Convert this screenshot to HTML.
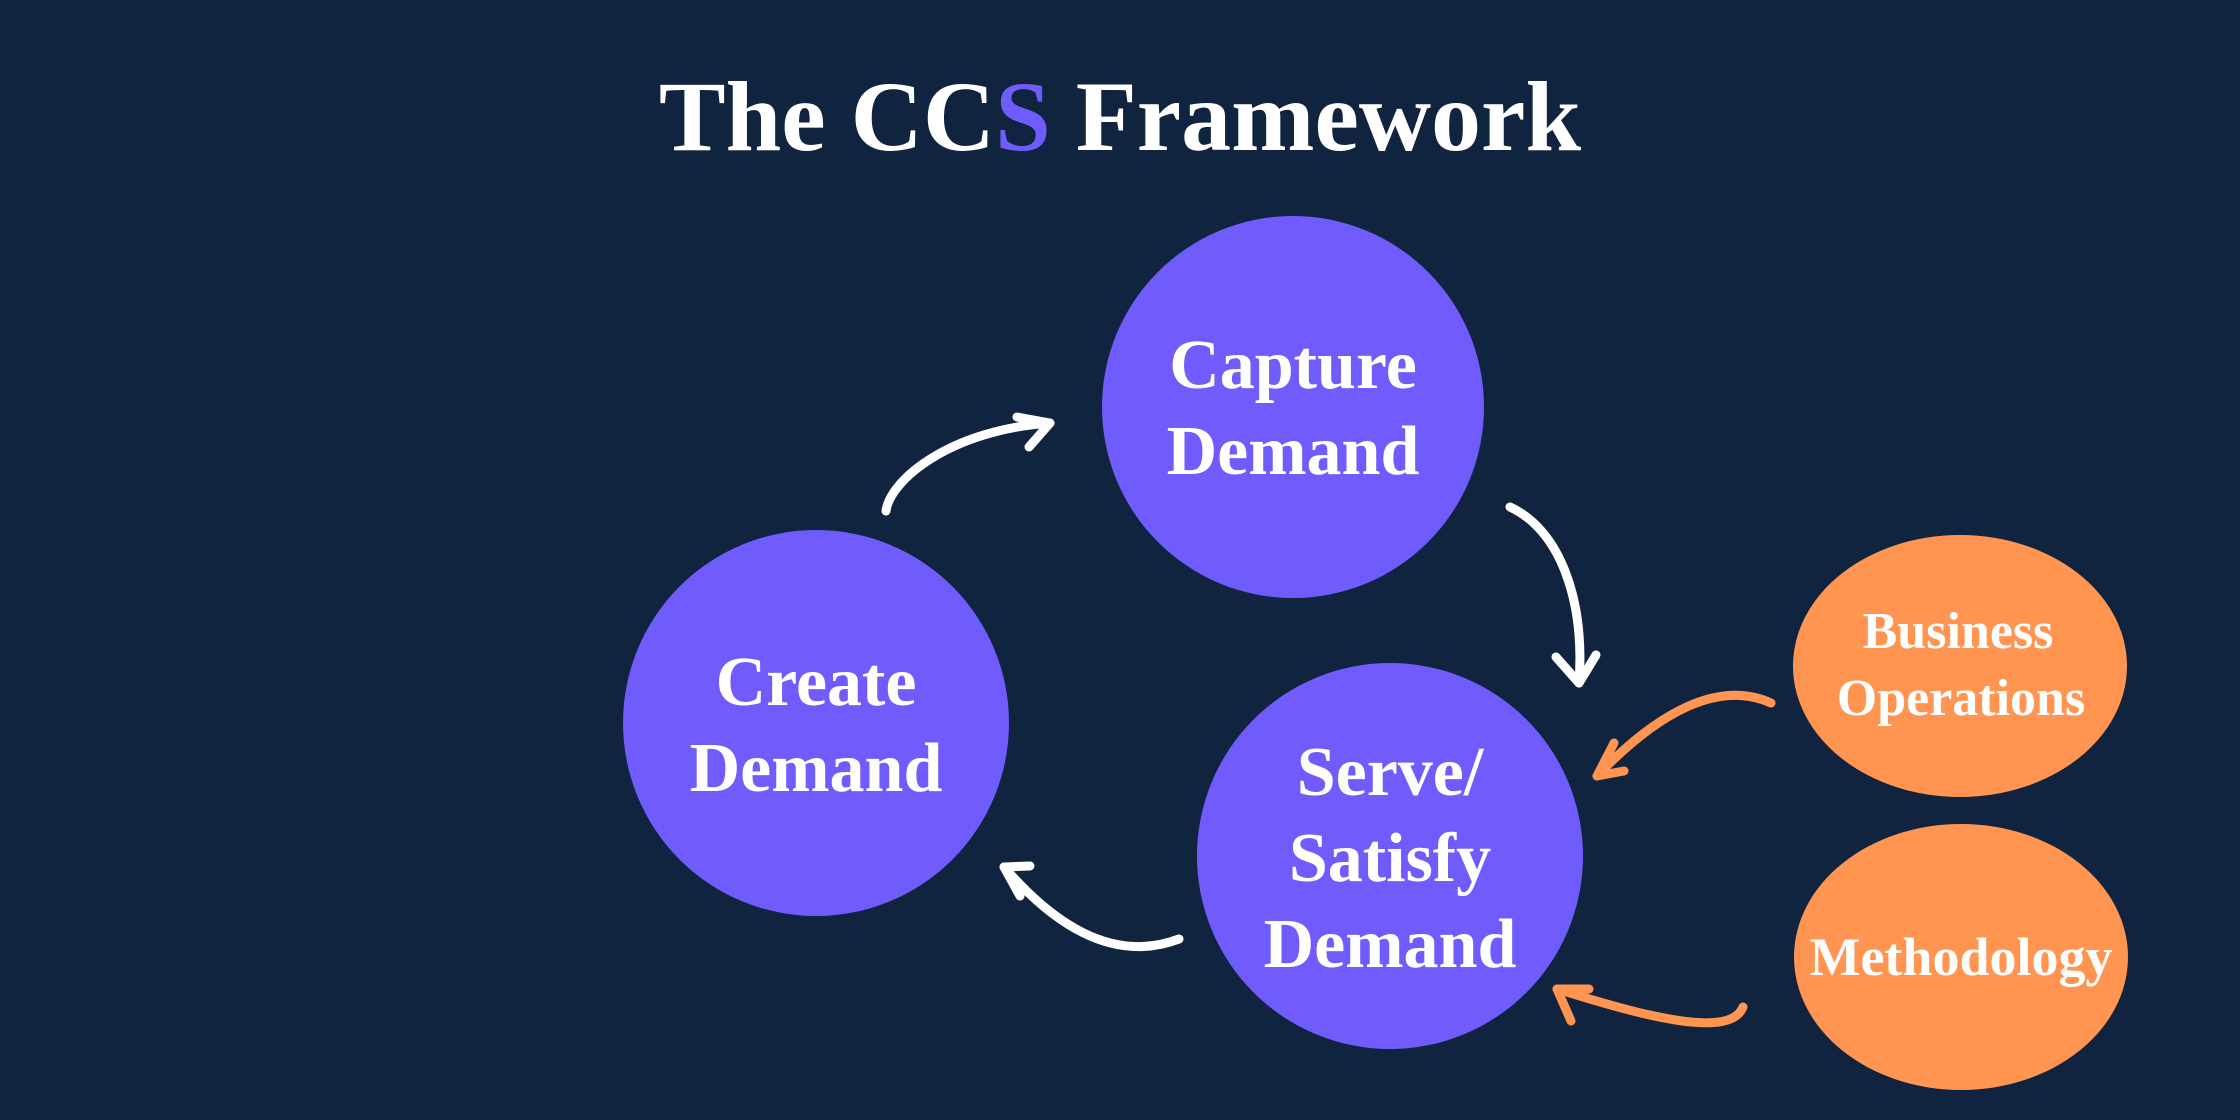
<!DOCTYPE html>
<html><head><meta charset="utf-8"><style>
html,body{margin:0;padding:0;background:#11243f;}
svg{display:block}
text{font-family:"Liberation Serif",serif;font-weight:bold;fill:#fff;text-anchor:middle}
</style></head><body>
<svg width="2240" height="1120" viewBox="0 0 2240 1120">
<rect width="2240" height="1120" fill="#11243f"/>
<text x="1120" y="150" font-size="100">The CC<tspan fill="#705cfd">S</tspan> Framework</text>
<circle cx="1293" cy="407" r="191" fill="#705cfd"/>
<circle cx="816" cy="723" r="193" fill="#705cfd"/>
<circle cx="1390" cy="856" r="193" fill="#705cfd"/>
<ellipse cx="1960" cy="666" rx="167" ry="131" fill="#ff9550"/>
<ellipse cx="1961" cy="957" rx="167" ry="133" fill="#ff9550"/>
<g font-size="70">
<text x="1293" y="388">Capture</text><text x="1293" y="474">Demand</text>
<text x="816" y="705">Create</text><text x="816" y="791">Demand</text>
<text x="1390" y="795">Serve/</text><text x="1390" y="881">Satisfy</text><text x="1390" y="967">Demand</text>
</g>
<g font-size="52">
<text x="1958" y="648">Business</text><text x="1961" y="715">Operations</text>
</g>
<text x="1961" y="975" font-size="54">Methodology</text>
<g fill="none" stroke="#fff" stroke-width="9" stroke-linecap="round" stroke-linejoin="round">
<path d="M886,511 C890,480 950,430 1050,423"/><path d="M1017,417 L1050,423 L1029,447"/>
<path d="M1510,507 C1560,530 1585,600 1579,683"/><path d="M1556,657 L1579,683 L1596,655"/>
<path d="M1179,939 C1110,965 1050,920 1004,867"/><path d="M1030,866 L1004,867 L1020,896"/>
</g>
<g fill="none" stroke="#ff9550" stroke-width="9" stroke-linecap="round" stroke-linejoin="round">
<path d="M1771,703 C1720,680 1660,710 1597,776"/><path d="M1614,743 L1597,776 L1624,771"/>
<path d="M1743,1007 C1730,1040 1640,1015 1557,989"/><path d="M1589,989 L1557,989 L1571,1021"/>
</g>
</svg>
</body></html>
